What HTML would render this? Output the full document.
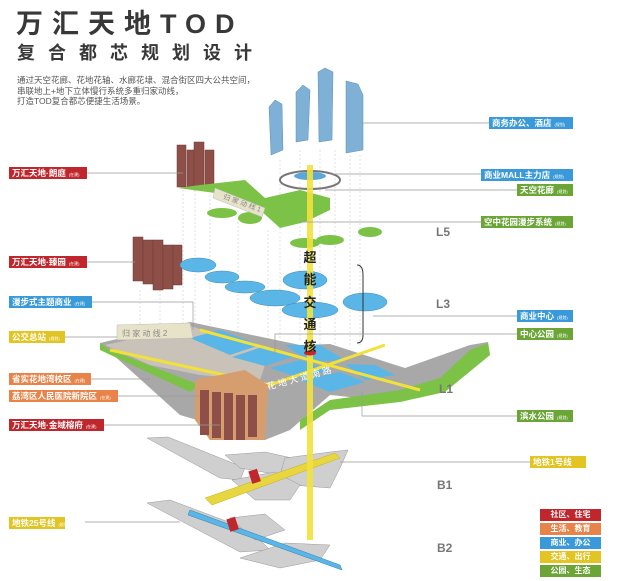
<!DOCTYPE html>
<html><head><meta charset="utf-8">
<style>
html,body{margin:0;padding:0;background:#fff;}
body{width:618px;height:581px;position:relative;overflow:hidden;font-family:"Liberation Sans","Noto Sans CJK SC",sans-serif;}
.t1{position:absolute;left:16px;top:8px;font-size:27px;font-weight:bold;color:#383838;letter-spacing:9px;white-space:nowrap;line-height:32px;}
.t2{position:absolute;left:17px;top:42px;font-size:18px;font-weight:bold;color:#383838;letter-spacing:13px;white-space:nowrap;line-height:22px;}
.tx{position:absolute;left:17px;top:75px;font-size:8.5px;color:#555;line-height:10.5px;white-space:nowrap;}
.lb{position:absolute;height:12px;line-height:12px;font-size:8.5px;font-weight:bold;color:#fff;padding-left:3px;white-space:nowrap;box-sizing:border-box;}
.lb small{font-size:4px;font-weight:normal;margin-left:3px;}
.r{background:#c0272d}.o{background:#e8834a}.b{background:#3a9ad9}.y{background:#e2c422}.g{background:#6aa535}
.lv{position:absolute;font-size:12px;color:#777;font-weight:bold;}
.lg{position:absolute;left:540px;width:61px;height:12px;line-height:12px;font-size:8px;color:#fff;text-align:center;font-weight:bold;}
</style></head><body>
<svg width="618" height="581" style="position:absolute;left:0;top:0">
<g stroke="#ccc" stroke-width="0.6" stroke-dasharray="2,2">
<line x1="183" y1="190" x2="183" y2="360"/><line x1="195" y1="190" x2="195" y2="360"/><line x1="210" y1="195" x2="210" y2="360"/>
<line x1="140" y1="290" x2="140" y2="345"/><line x1="160" y1="290" x2="160" y2="345"/>
<line x1="238" y1="210" x2="238" y2="360"/><line x1="268" y1="230" x2="268" y2="360"/><line x1="280" y1="160" x2="280" y2="340"/>
<line x1="300" y1="150" x2="300" y2="340"/><line x1="320" y1="150" x2="320" y2="345"/><line x1="335" y1="150" x2="335" y2="345"/>
<line x1="350" y1="155" x2="350" y2="345"/><line x1="360" y1="155" x2="360" y2="345"/>
</g>
<g fill="#7fb0d6" stroke="#5a8fb8" stroke-width="0.5">
<polygon points="269,107 275,100 282,104 283,150 271,155"/>
<polygon points="296,92 303,85 310,90 308,140 296,142"/>
<polygon points="318,72 325,68 333,72 332,140 319,142"/>
<polygon points="346,81 358,84 363,95 363,150 346,153"/>
</g>
<g fill="#8e4f48" stroke="#6d3a35" stroke-width="0.5">
<rect x="177" y="145" width="9" height="42"/><rect x="187" y="150" width="8" height="38"/><rect x="194" y="142" width="10" height="48"/><rect x="205" y="150" width="9" height="40"/>
<rect x="133" y="237" width="10" height="44"/><rect x="143" y="240" width="10" height="44"/><rect x="153" y="240" width="10" height="50"/><rect x="163" y="245" width="10" height="44"/><rect x="173" y="245" width="9" height="40"/>
</g>
<g fill="#7cc246">
<polygon points="178,188 230,195 260,210 280,228 305,222 330,210 330,198 300,190 265,198 245,180 200,185"/>
<ellipse cx="222" cy="213" rx="15" ry="5"/><ellipse cx="250" cy="218" rx="12" ry="6"/>
<ellipse cx="305" cy="243" rx="15" ry="5"/><ellipse cx="330" cy="240" rx="14" ry="5"/>
<ellipse cx="370" cy="232" rx="12" ry="5"/>
</g>
<polygon points="215,188 265,208 262,217 213,198" fill="#e7e3c8" stroke="#bbb" stroke-width="0.5"/>
<text x="222" y="203" font-size="7" fill="#888" transform="rotate(20 235 203)">归 家 动 线 1</text>
<ellipse cx="310" cy="180" rx="30" ry="9" fill="none" stroke="#777" stroke-width="2"/>
<ellipse cx="310" cy="176" rx="16" ry="4" fill="#5aa7d8"/>
<g fill="#5ab6e6" stroke="#3f8bb8" stroke-width="0.5">
<ellipse cx="198" cy="265" rx="18" ry="7"/><ellipse cx="222" cy="277" rx="17" ry="6"/><ellipse cx="245" cy="287" rx="20" ry="6"/>
<ellipse cx="275" cy="298" rx="25" ry="8"/><ellipse cx="305" cy="280" rx="22" ry="9"/><ellipse cx="310" cy="310" rx="28" ry="8"/>
<ellipse cx="365" cy="302" rx="22" ry="9"/>
</g>
<polygon points="100,343 190,322 300,345 330,344 405,368 470,345 488,342 490,355 440,392 400,402 380,400 330,395 290,430 265,440 180,415 130,370" fill="#a8a8a8"/>
<polygon points="105,345 190,326 270,350 260,380 200,375 150,365" fill="#c9c2b8"/>
<g fill="#5ab6e6">
<polygon points="190,338 220,330 260,345 230,355"/><polygon points="232,357 262,347 295,356 265,366"/>
<polygon points="270,368 300,360 330,370 300,378"/><polygon points="285,345 320,345 345,360 310,362"/>
<polygon points="300,380 340,372 365,382 330,392"/><polygon points="345,364 375,365 395,375 365,380"/>
</g>
<polygon points="440,378 470,350 488,343 490,355 445,392 400,402 330,410 300,430 300,420 330,400 400,390" fill="#7cc246"/>
<polygon points="100,343 110,350 200,385 190,392 100,350" fill="#7cc246"/>
<g stroke="#f1e13a" stroke-width="3">
<line x1="110" y1="350" x2="270" y2="385"/>
<line x1="270" y1="385" x2="385" y2="345"/>
<line x1="200" y1="330" x2="420" y2="390"/>
</g>
<polygon points="117,325 190,323 193,338 117,340" fill="#e7e3c8" stroke="#bbb" stroke-width="0.5"/>
<text x="122" y="336" font-size="8" fill="#888">归 家 动 线 2</text>
<text x="265" y="381" font-size="9" fill="#fff" transform="rotate(-15 300 375)">花 地 大 道 南 路</text>
<polygon points="195,380 245,370 268,385 265,440 210,440 195,420" fill="#d69d6e"/>
<g fill="#8e4f48"><rect x="200" y="390" width="9" height="45"/><rect x="212" y="392" width="9" height="46"/><rect x="224" y="393" width="9" height="47"/><rect x="236" y="395" width="9" height="45"/><rect x="248" y="395" width="9" height="42"/></g>
<!-- B1 -->
<g fill="#cfcfcf" stroke="#999" stroke-width="0.5">
<polygon points="147,438 168,437 245,468 240,480 220,478"/>
<polygon points="225,455 265,452 310,462 280,475 240,468"/>
<polygon points="285,458 330,452 348,450 340,468 330,488 292,485 280,475"/>
<polygon points="232,480 275,472 300,485 290,500 255,500"/>
</g>
<polygon points="205,498 335,453 340,458 212,505" fill="#e8d640" stroke="#c4b020" stroke-width="0.5"/>
<rect x="250" y="470" width="9" height="13" fill="#c0272d" transform="rotate(-18 254 476)"/>
<!-- B2 -->
<g fill="#cfcfcf" stroke="#999" stroke-width="0.5">
<polygon points="147,503 170,500 250,530 270,550 240,552"/>
<polygon points="230,518 265,514 285,530 255,540"/>
<polygon points="240,558 285,543 330,545 320,560 280,568"/>
</g>
<polygon points="190,510 340,565 342,570 188,515" fill="#5ab6e6" stroke="#2f7fb0" stroke-width="0.5"/>
<rect x="228" y="518" width="9" height="13" fill="#c0272d" transform="rotate(-18 232 524)"/>
<rect x="307" y="165" width="6" height="375" fill="#f2e23a" opacity="0.9"/>
<ellipse cx="310" cy="353" rx="6" ry="2.5" fill="#d0222a"/>
<g font-size="13" font-weight="bold" fill="#222" font-family="Noto Sans CJK SC,sans-serif" text-anchor="middle">
<text x="310" y="262">超</text><text x="310" y="284">能</text><text x="310" y="307">交</text><text x="310" y="329">通</text><text x="310" y="351">核</text>
</g>
<path d="M357,265 q6,0 6,10 v60 q0,8 -6,8" fill="none" stroke="#333" stroke-width="1"/>
<g stroke="#999" stroke-width="0.7" fill="none">
<line x1="87" y1="173" x2="183" y2="173"/>
<line x1="87" y1="262" x2="135" y2="262"/>
<polyline points="92,302 193,302 193,330"/>
<line x1="65" y1="337" x2="117" y2="337"/>
<line x1="91" y1="379" x2="150" y2="379"/>
<line x1="118" y1="396" x2="200" y2="396"/>
<line x1="104" y1="425" x2="220" y2="425"/>
<line x1="362" y1="123" x2="489" y2="123"/>
<line x1="330" y1="174" x2="481" y2="174"/>
<line x1="325" y1="190" x2="517" y2="190"/>
<line x1="300" y1="222" x2="481" y2="222"/>
<line x1="373" y1="316" x2="517" y2="316"/>
<polyline points="275,355 275,334 517,334"/>
<polyline points="362,392 362,416 517,416"/>
<line x1="340" y1="462" x2="530" y2="462"/>
<line x1="85" y1="522" x2="180" y2="522"/>
</g>
</svg>
<div class="t1">万汇天地TOD</div>
<div class="t2">复合都芯规划设计</div>
<div class="tx">通过天空花廊、花地花轴、水廊花埭、混合街区四大公共空间，<br>串联地上+地下立体慢行系统多重归家动线，<br>打造TOD复合都芯便捷生活场景。</div>

<div class="lb r" style="left:9px;top:167px;width:78px">万汇天地·朗庭<small>(在建)</small></div>
<div class="lb r" style="left:9px;top:256px;width:78px">万汇天地·臻园<small>(在建)</small></div>
<div class="lb b" style="left:9px;top:296px;width:83px">漫步式主题商业<small>(在建)</small></div>
<div class="lb y" style="left:9px;top:331px;width:56px">公交总站<small>(规划)</small></div>
<div class="lb o" style="left:9px;top:373px;width:82px">省实花地湾校区<small>(在建)</small></div>
<div class="lb o" style="left:9px;top:390px;width:109px">荔湾区人民医院新院区<small>(在建)</small></div>
<div class="lb r" style="left:9px;top:419px;width:95px">万汇天地·金域榕府<small>(在建)</small></div>
<div class="lb y" style="left:9px;top:517px;width:56px">地铁25号线<small>(规划)</small></div>

<div class="lb b" style="left:489px;top:117px;width:84px">商务办公、酒店<small>(规划)</small></div>
<div class="lb b" style="left:481px;top:169px;width:92px">商业MALL主力店<small>(规划)</small></div>
<div class="lb g" style="left:517px;top:184px;width:56px">天空花廊<small>(规划)</small></div>
<div class="lb g" style="left:481px;top:216px;width:92px">空中花园漫步系统<small>(规划)</small></div>
<div class="lb b" style="left:517px;top:310px;width:56px">商业中心<small>(规划)</small></div>
<div class="lb g" style="left:517px;top:328px;width:56px">中心公园<small>(规划)</small></div>
<div class="lb g" style="left:517px;top:410px;width:56px">滨水公园<small>(规划)</small></div>
<div class="lb y" style="left:530px;top:456px;width:56px">地铁1号线</div>

<div class="lv" style="left:436px;top:225px">L5</div>
<div class="lv" style="left:436px;top:297px">L3</div>
<div class="lv" style="left:439px;top:382px">L1</div>
<div class="lv" style="left:437px;top:478px">B1</div>
<div class="lv" style="left:437px;top:541px">B2</div>

<div class="lg r" style="top:509px">社区、住宅</div>
<div class="lg o" style="top:523px">生活、教育</div>
<div class="lg b" style="top:537px">商业、办公</div>
<div class="lg y" style="top:551px">交通、出行</div>
<div class="lg g" style="top:565px">公园、生态</div>
</body></html>
